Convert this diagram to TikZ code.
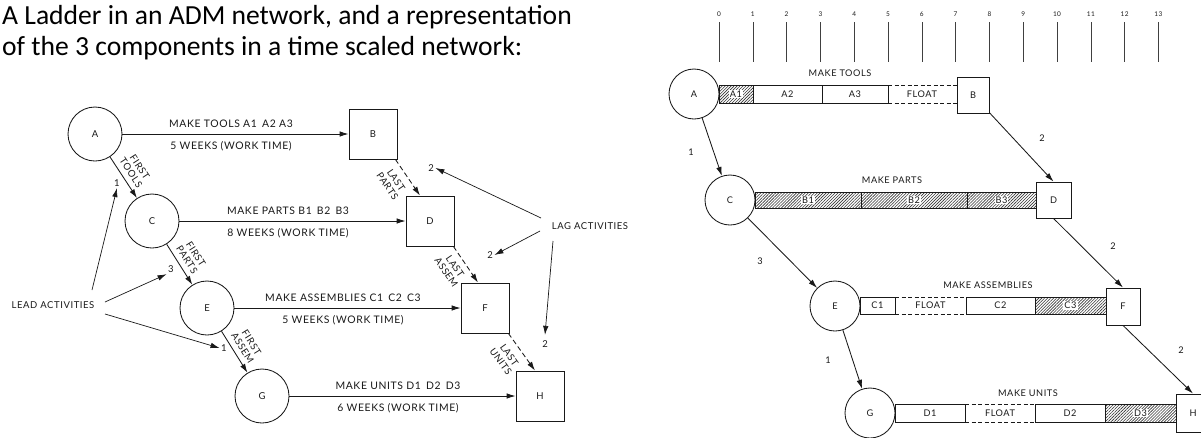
\documentclass[tikz,border=0pt]{standalone}
\usepackage{fontspec}
\setmainfont{Carlito}
\newfontfamily\plate[LetterSpace=6]{Lato}
\usetikzlibrary{arrows.meta,patterns.meta}

\tikzset{
  ink/.style={draw=black!90, line width=0.85pt},
  ltxt/.style={font=\plate\fontsize{9.5}{10.5}\selectfont, text=black!90, inner sep=1.5pt},
  rowtxt/.style={font=\plate\fontsize{10.4}{11}\selectfont, text=black!90, inner sep=1.5pt},
  stxt/.style={font=\plate\fontsize{9.6}{10.5}\selectfont, text=black!90, inner sep=1pt, align=center},
  rtxt/.style={font=\plate\fontsize{9.2}{10}\selectfont, text=black!90, inner sep=1pt},
  num/.style={font=\plate\fontsize{6.5}{7}\selectfont, text=black!90, inner sep=0.5pt},
  evL/.style={circle, ink, minimum size=54pt, inner sep=0pt, ltxt},
  msL/.style={rectangle, ink, minimum width=48pt, minimum height=50pt, inner sep=0pt, ltxt},
  evR/.style={circle, ink, minimum size=50pt, inner sep=0pt, rtxt},
  msR/.style={rectangle, ink, inner sep=0pt, rtxt},
  arrowtip/.style={-{Latex[length=9pt,width=5.5pt]}},
  act/.style={ink, arrowtip},
  thin/.style={draw=black!90, line width=0.7pt, arrowtip},
  lastline/.style={ink, arrowtip, dash pattern=on 5pt off 3pt},
  hatch/.style={pattern={Lines[angle=45,distance=2.1pt,line width=0.6pt]}, pattern color=black!80},
  flo/.style={draw=black!90, line width=0.75pt, dash pattern=on 4pt off 2.5pt},
  tick/.style={draw=black!75, line width=0.6pt},
  seg/.style={ink},
  title/.style={anchor=base west, inner sep=0pt, font=\fontsize{27.6}{31}\selectfont},
}

\begin{document}
\begin{tikzpicture}[x=1pt,y=-1pt]
\useasboundingbox (0,0) rectangle (1201,437);
\clip (0,0) rectangle (1201,437);

% ---------- heading ----------
\node[title] (t1) at (2,24) {A Ladder in an ADM network, and a representation};
\node[title] (t2) at (2,55) {of the 3 components in a time scaled network:};

% ---------- ladder drawn as an arrow diagram ----------
\node[evL] (A) at (95,134) {A};
\node[evL] (C) at (152,221) {C};
\node[evL] (E) at (207,308) {E};
\node[evL] (G) at (262,396) {G};
\node[msL] (B) at (373,134) {B};
\node[msL] (D) at (430,221) {D};
\node[msL] (F) at (485,308) {F};
\node[msL] (H) at (540,396) {H};

\draw[act] (A) -- (B)
  node[rowtxt, pos=0.48, above=4.5pt] {MAKE TOOLS A1\enspace A2 A3}
  node[rowtxt, pos=0.48, below=5.5pt] {5 WEEKS (WORK TIME)};
\draw[act] (C) -- (D)
  node[rowtxt, pos=0.48, above=4.5pt] {MAKE PARTS B1\enspace B2\enspace B3}
  node[rowtxt, pos=0.48, below=5.5pt] {8 WEEKS (WORK TIME)};
\draw[act] (E) -- (F)
  node[rowtxt, pos=0.48, above=4.5pt] {MAKE ASSEMBLIES C1\enspace C2\enspace C3}
  node[rowtxt, pos=0.48, below=5.5pt] {5 WEEKS (WORK TIME)};
\draw[act] (G) -- (H)
  node[rowtxt, pos=0.48, above=4.5pt] {MAKE UNITS D1\enspace D2\enspace D3}
  node[rowtxt, pos=0.48, below=5.5pt] {6 WEEKS (WORK TIME)};

% lead links: first output of one step starts the next
\draw[act] (A) -- (C) node[stxt, sloped, above=4pt, pos=0.5] {FIRST\\TOOLS};
\draw[act] (C) -- (E) node[stxt, sloped, above=4pt, pos=0.5] {FIRST\\PARTS};
\draw[act] (E) -- (G) node[stxt, sloped, above=4pt, pos=0.52] {FIRST\\ASSEM};

% lag links: last output of one step ends the next
\draw[lastline] ([xshift=-2pt]B.south east) -- ([xshift=-10pt]D.north)
  node[stxt, sloped, below=6pt, pos=0.4] {LAST\\PARTS};
\draw[lastline] ([xshift=-1pt]D.south east) -- ([xshift=-7pt]F.north)
  node[stxt, sloped, below=5pt, pos=0.4] {LAST\\ASSEM};
\draw[lastline] ([xshift=-1pt]F.south east) -- ([xshift=-5pt]H.north)
  node[stxt, sloped, below=7pt, pos=0.4] {LAST\\UNITS};

% lead call-outs
\node[ltxt] (lead) at (53,305) {LEAD ACTIVITIES};
\node[ltxt] (l1) at (117,183) {1};
\node[ltxt] (l3) at (171,269) {3};
\node[ltxt] (l1b) at (224,348) {1};
\coordinate (ld1) at (92,290);
\coordinate (ld2) at (105,302);
\coordinate (ld3) at (105,314);
\draw[thin] (ld1) -- (l1.south);
\draw[thin] (ld2) -- (l3.south west);
\draw[thin] (ld3) -- (l1b.west);

% lag call-outs
\node[ltxt] (lag) at (590,226) {LAG ACTIVITIES};
\node[ltxt] (g1) at (431,168) {2};
\node[ltxt] (g2) at (490,255) {2};
\node[ltxt] (g3) at (545,344) {2};
\coordinate (lg1) at (541,218);
\coordinate (lg2) at (540,231);
\coordinate (lg3) at (553,241);
\draw[thin] (lg1) -- (g1.east);
\draw[thin] (lg2) -- (g2.east);
\draw[thin] (lg3) -- ([yshift=4pt]g3.north);

% ---------- the same ladder on a time scale ----------
\foreach \i in {0,...,13} {
  \pgfmathsetmacro\tx{719+33.8*\i}
  \draw[tick] (\tx,22) -- (\tx,62);
  \node[num] (t\i) at (\tx,14) {\i};
}

% make tools
\node[evR] (A2) at (694,94) {A};
\node[msR, minimum width=32pt, minimum height=36pt] (B2) at (973,95) {B};
\draw[seg, hatch] (719,85) rectangle (753,103);
\node[rtxt, fill=white] (a1) at (736,94) {A1};
\draw[seg] (753,85) rectangle (822,103);
\node[rtxt] (a2) at (787.5,94) {A2};
\draw[seg] (822,85) rectangle (888,103);
\node[rtxt] (a3) at (855,94) {A3};
\draw[flo] (888,85) -- (957,85) (888,103) -- (957,103);
\node[rtxt] (af) at (922,94) {FLOAT};
\node[rtxt] (mt) at (840,73) {MAKE TOOLS};

% make parts
\node[evR] (C2) at (730,200) {C};
\node[msR, minimum width=35pt, minimum height=36pt] (D2) at (1053.5,200) {D};
\draw[seg, hatch] (755,192) rectangle (861,208);
\draw[seg, hatch] (861,192) rectangle (967,208);
\draw[seg, hatch] (967,192) rectangle (1036,208);
\node[rtxt, fill=white] (b1) at (808,200) {B1};
\node[rtxt, fill=white] (b2) at (914,200) {B2};
\node[rtxt, fill=white] (b3) at (1001.5,200) {B3};
\node[rtxt] (mp) at (892,180) {MAKE PARTS};

% make assemblies
\node[evR] (E2) at (835,306) {E};
\node[msR, minimum width=34pt, minimum height=37pt] (F2) at (1123,306.5) {F};
\draw[seg] (860,297) rectangle (895,314);
\node[rtxt] (c1) at (877.5,305.5) {C1};
\draw[flo] (895,297) -- (966,297) (895,314) -- (966,314);
\node[rtxt] (cf) at (930.5,305.5) {FLOAT};
\draw[seg] (966,297) rectangle (1035,314);
\node[rtxt] (c2) at (1000.5,305.5) {C2};
\draw[seg, hatch] (1035,297) rectangle (1106,314);
\node[rtxt, fill=white] (c3) at (1070.5,305.5) {C3};
\node[rtxt] (ma) at (988,285) {MAKE ASSEMBLIES};

% make units
\node[evR] (G2) at (870,413) {G};
\node[msR, minimum width=34pt, minimum height=38pt] (H2) at (1193,413) {H};
\draw[seg] (895,404) rectangle (965,422);
\node[rtxt] (d1) at (930,413) {D1};
\draw[flo] (965,404) -- (1035,404) (965,422) -- (1035,422);
\node[rtxt] (df) at (1000,413) {FLOAT};
\draw[seg] (1035,404) rectangle (1105,422);
\node[rtxt] (d2) at (1070,413) {D2};
\draw[seg, hatch] (1105,404) rectangle (1176,422);
\node[rtxt, fill=white] (d3) at (1140.5,413) {D3};
\node[rtxt] (mu) at (1028,393) {MAKE UNITS};

% links between the steps, with their lead and lag times
\draw[act] (A2) -- (C2);
\draw[act] (C2) -- (E2);
\draw[act] (E2) -- (G2);
\draw[act] (B2) -- (D2.north);
\draw[act] (D2.south) -- (F2.north);
\draw[act] (F2.south) -- (H2.north);
\node[rtxt] (n1) at (691,152) {1};
\node[rtxt] (n3) at (760,261) {3};
\node[rtxt] (n1b) at (828,360) {1};
\node[rtxt] (n2a) at (1042,138) {2};
\node[rtxt] (n2b) at (1113,246) {2};
\node[rtxt] (n2c) at (1181,350) {2};
\end{tikzpicture}
\end{document}
